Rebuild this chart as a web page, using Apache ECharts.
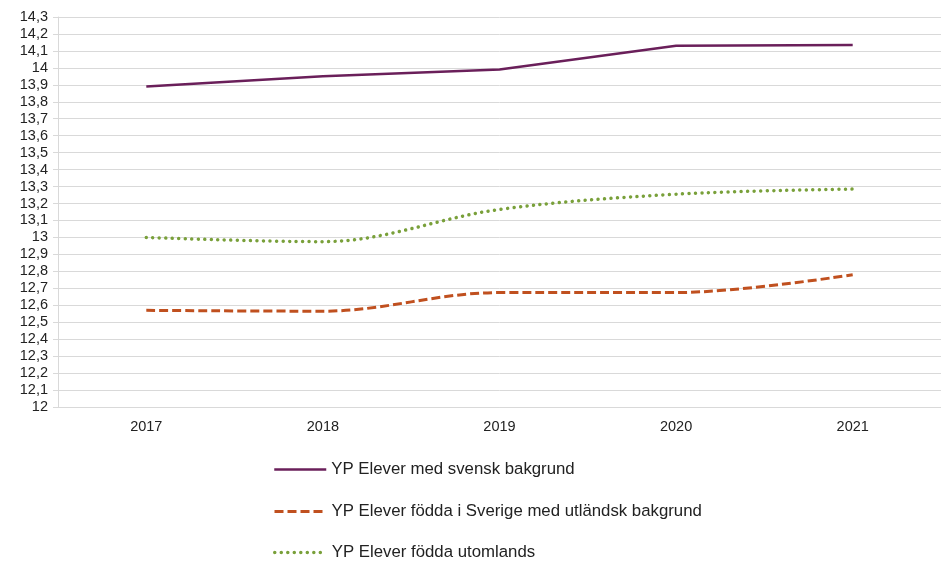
<!DOCTYPE html>
<html>
<head>
<meta charset="utf-8">
<script src="https://cdn.jsdelivr.net/npm/echarts@6/dist/echarts.min.js"></script>
<style>html,body{margin:0;padding:0;background:#fff}#c{width:941px;height:561px}</style>
</head>
<body>
<div id="c"></div>
<script>
const categories = ['2017', '2018', '2019', '2020', '2021'];
const svensk = [13.89, 13.95, 13.99, 14.13, 14.135];
const utlBakgrund = [12.57, 12.565, 12.675, 12.675, 12.78];
const utomlands = [13.0, 12.975, 13.165, 13.255, 13.285];
const seriesNames = ['YP Elever med svensk bakgrund', 'YP Elever födda i Sverige med utländsk bakgrund', 'YP Elever födda utomlands'];

const legendTops = [456, 498, 539];
const legendWidths = [2.5, 3, 3.5];
const chart = echarts.init(document.getElementById('c'), null, {renderer: 'canvas'});
chart.setOption({
  animation: false,
  backgroundColor: '#fff',
  textStyle: {fontFamily: 'Liberation Sans, Arial, sans-serif'},
  grid: {left: 58, right: -4, top: 17, bottom: 154},
  xAxis: {
    type: 'category', data: categories, boundaryGap: true,
    axisLine: {lineStyle: {color: '#d9d9d9', width: 1}},
    axisTick: {show: false},
    axisLabel: {color: '#222', fontSize: 14.5, margin: 12}
  },
  yAxis: {
    type: 'value', min: 12, max: 14.3, interval: 0.1,
    axisLine: {show: true, lineStyle: {color: '#d9d9d9'}},
    axisTick: {show: true, length: 5, lineStyle: {color: '#d9d9d9'}},
    splitLine: {lineStyle: {color: '#d9d9d9', width: 1}},
    axisLabel: {color: '#222', fontSize: 14.5, margin: 10,
      formatter: v => (Math.round(v * 10) / 10).toString().replace('.', ',')}
  },
  legend: seriesNames.map((n, i) => ({
    orient: 'horizontal', left: 268, top: legendTops[i],
    itemWidth: 52, itemHeight: 17,
    itemStyle: {opacity: 0},
    lineStyle: {width: legendWidths[i]},
    textStyle: {color: '#222', fontSize: 16.8},
    data: [n]
  })),
  series: [
    {name: seriesNames[0], type: 'line', data: svensk, symbol: 'none', color: '#6a1f5a',
     lineStyle: {width: 2.5, color: '#6a1f5a'}},
    {name: seriesNames[1], type: 'line', data: utlBakgrund, symbol: 'none', smooth: 0.35, color: '#c0501f',
     lineStyle: {width: 3, color: '#c0501f', type: [9, 4]}},
    {name: seriesNames[2], type: 'line', data: utomlands, symbol: 'none', smooth: 0.35, color: '#79a03a',
     lineStyle: {width: 3.5, color: '#79a03a', type: [0.01, 6.5], cap: 'round'}}
  ]
});
</script>
</body>
</html>
